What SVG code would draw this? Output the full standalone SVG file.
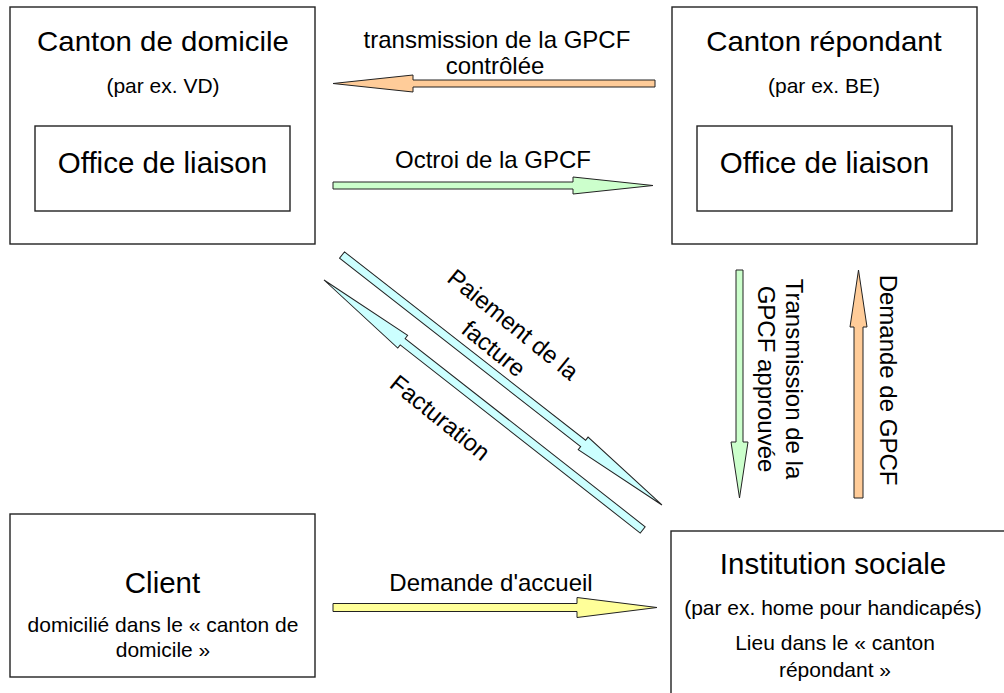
<svg xmlns="http://www.w3.org/2000/svg" width="1004" height="693" viewBox="0 0 1004 693">
<style>
text{font-family:"Liberation Sans",Arial,sans-serif;fill:#000;text-anchor:middle}
.box{fill:#fff;stroke:#222;stroke-width:1.4}
.h{font-size:29.5px}
.hc{font-size:27px}
.s{font-size:21px}
.l{font-size:24px}
.arr{stroke:#222;stroke-width:1;stroke-linejoin:miter}
.or{fill:#FFCC99}
.gr{fill:#CCFFCC}
.cy{fill:#CCFFFF}
.ye{fill:#FFFF99}
</style>
<rect width="1004" height="693" fill="#fff"/>
<g id="canton-domicile">
<rect class="box" x="10" y="7" width="305" height="237"/>
<text class="hc" transform="translate(163,51) scale(1.09,1)">Canton de domicile</text>
<text class="s" x="163" y="93">(par ex. VD)</text>
<g id="office-domicile">
<rect class="box" x="35" y="126" width="255" height="85"/>
<text class="h" x="162.5" y="173">Office de liaison</text>
</g>
</g>
<g id="canton-repondant">
<rect class="box" x="672" y="7" width="305" height="237"/>
<text class="hc" transform="translate(824,51) scale(1.09,1)">Canton répondant</text>
<text class="s" x="824" y="93">(par ex. BE)</text>
<g id="office-repondant">
<rect class="box" x="697" y="126" width="255" height="85"/>
<text class="h" x="824.5" y="173">Office de liaison</text>
</g>
</g>
<g id="client">
<rect class="box" x="10" y="514" width="305" height="163"/>
<text class="h" x="162.5" y="593">Client</text>
<text class="s" x="163" y="632">domicilié dans le « canton de</text>
<text class="s" x="163" y="657">domicile »</text>
</g>
<g id="institution">
<rect class="box" x="671" y="531" width="400" height="200"/>
<text class="h" x="833" y="574">Institution sociale</text>
<text class="s" x="833" y="615">(par ex. home pour handicapés)</text>
<text class="s" x="835" y="650">Lieu dans le « canton</text>
<text class="s" x="835" y="677">répondant »</text>
</g>
<g id="connectors">
<polygon class="arr or" points="333,83.5 413,75 413,80 655,80 655,87 413,87 413,92"/>
<text class="l" x="497" y="48">transmission de la GPCF</text>
<text class="l" x="495" y="74">contrôlée</text>
<polygon class="arr gr" points="333,182 573,182 573,177 653,185.5 573,194 573,189 333,189"/>
<text class="l" x="493" y="168">Octroi de la GPCF</text>
<polygon class="arr ye" points="333,603.5 577,603.5 577,597.5 657,607.5 577,617.5 577,611.5 333,611.5"/>
<text class="l" x="491" y="591">Demande d'accueil</text>
<polygon class="arr gr" points="736,270 743,270 743,442 748,442 739.5,498 731,442 736,442"/>
<text class="l" transform="translate(786,379) rotate(90)">Transmission de la</text>
<text class="l" transform="translate(758,379) rotate(90)">GPCF approuvée</text>
<polygon class="arr or" points="858.5,270 867,327 863,327 863,498 854,498 854,327 850,327"/>
<text class="l" transform="translate(880,380) rotate(90)">Demande de GPCF</text>
<polygon class="arr cy" transform="translate(342,255) rotate(38)" points="0,-4 306,-4 306,-8 406,0 306,8 306,4 0,4"/>
<g transform="translate(508,331) rotate(39)">
<text class="l" x="0" y="0">Paiement de la</text>
<text class="l" x="0" y="31">facture</text>
</g>
<polygon class="arr cy" transform="translate(324,280) rotate(38.1)" points="0,0 100,-8 100,-4 405,-4 405,4 100,4 100,8"/>
<text class="l" transform="translate(435,424) rotate(39)">Facturation</text>
</g>
</svg>
